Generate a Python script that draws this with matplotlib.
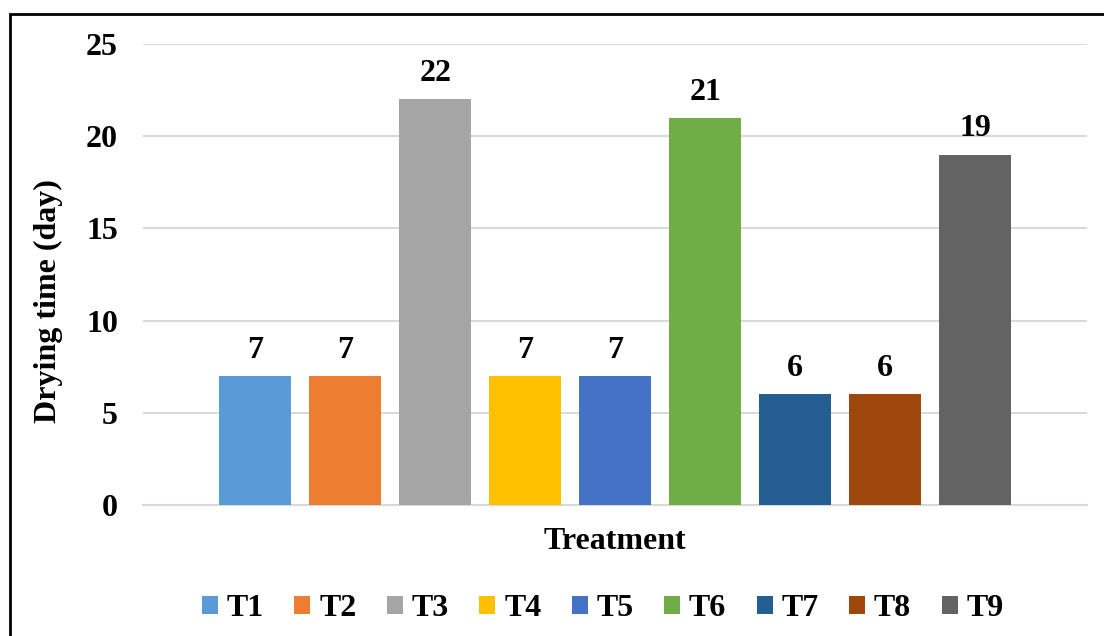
import matplotlib.pyplot as plt
from matplotlib.patches import Rectangle, Patch

# Daten
treatments = ['T1', 'T2', 'T3', 'T4', 'T5', 'T6', 'T7', 'T8', 'T9']
drying_days = [7, 7, 22, 7, 7, 21, 6, 6, 19]
bar_colors = ['#5B9BD5', '#ED7D31', '#A5A5A5', '#FFC000', '#4472C4',
              '#70AD47', '#255E91', '#9E480E', '#636363']

plt.rcParams['font.family'] = ['Liberation Serif', 'DejaVu Serif']
plt.rcParams['font.weight'] = 'bold'
fs = 23

fig = plt.figure(figsize=(11.04, 6.36), dpi=100)
ax = fig.add_axes([0.1295, 0.206, 0.855, 0.725])

x = list(range(len(treatments)))
bars = ax.bar(x, drying_days, width=0.8, color=bar_colors, zorder=3)

# Werte über den Balken
for xi, v in zip(x, drying_days):
    ax.annotate(str(v), (xi, v), xytext=(0, 8), textcoords='offset points',
                ha='center', va='bottom', fontsize=fs, fontweight='bold')

ax.set_xlim(-1.25, 9.24)
ax.set_ylim(0, 25)
ax.set_yticks([0, 5, 10, 15, 20, 25])
ax.set_xticks([])
ax.grid(axis='y', color='#D9D9D9', linewidth=1.5, zorder=0)
for s in ['top', 'right', 'left']:
    ax.spines[s].set_visible(False)
ax.spines['bottom'].set_color('#D9D9D9')
ax.spines['bottom'].set_linewidth(1.5)
ax.tick_params(axis='y', length=0, pad=18, labelsize=fs)
for lbl in ax.get_yticklabels():
    lbl.set_fontweight('bold')

ax.set_ylabel('Drying time (day)', fontsize=fs, fontweight='bold')
ax.yaxis.set_label_coords(-0.085, 0.4425)
ax.set_xlabel('Treatment', fontsize=fs, fontweight='bold', labelpad=16)

# Legende
handles = [Patch(facecolor=c) for c in bar_colors]
fig.legend(handles, treatments, loc='center', bbox_to_anchor=(0.546, 0.043),
           ncol=9, frameon=False, handlelength=0.5,
           handleheight=0.5, handletextpad=0.28, columnspacing=0.95,
           prop={'weight': 'bold', 'size': fs})

# Rahmen
fig.patches.append(Rectangle((10 / 1104, -0.1), 1.2, 1 - 14 / 636 + 0.1,
                             transform=fig.transFigure, fill=False,
                             edgecolor='black', linewidth=2))

plt.savefig('out.png', dpi=100)
plt.close()
